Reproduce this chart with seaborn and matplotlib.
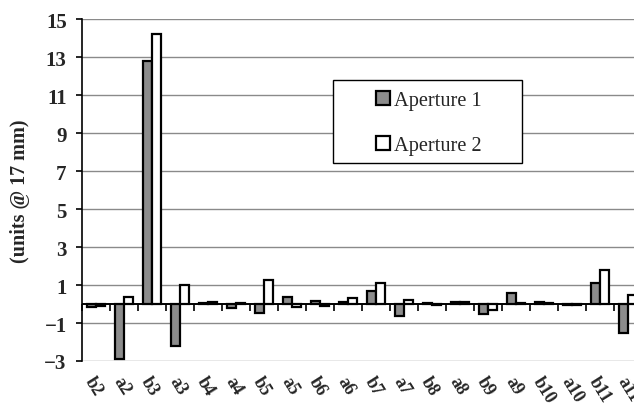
import matplotlib
matplotlib.use("Agg")
import matplotlib.pyplot as plt
from matplotlib.patches import Rectangle
import seaborn as sns
import pandas as pd
import numpy as np

categories = ["b2", "a2", "b3", "a3", "b4", "a4", "b5", "a5", "b6", "a6",
              "b7", "a7", "b8", "a8", "b9", "a9", "b10", "a10", "b11", "a11"]
aperture1 = [-0.15, -2.9, 12.8, -2.2, 0.05, -0.2, -0.45, 0.35, 0.15, 0.1,
             0.7, -0.65, 0.05, 0.08, -0.5, 0.6, 0.08, -0.05, 1.1, -1.5]
aperture2 = [-0.1, 0.38, 14.2, 1.0, 0.1, 0.05, 1.25, -0.15, -0.1, 0.3,
             1.08, 0.2, -0.05, 0.1, -0.3, 0.05, 0.05, -0.05, 1.8, 0.5]
series_names = ["Aperture 1", "Aperture 2"]
yticks = [-3, -1, 1, 3, 5, 7, 9, 11, 13, 15]

df = pd.DataFrame({
    "cat": categories * 2,
    "val": aperture1 + aperture2,
    "series": [series_names[0]] * len(categories) + [series_names[1]] * len(categories),
})

sns.set_style("white")
plt.rcParams["font.family"] = ["Liberation Serif", "DejaVu Serif"]

W, H = 634, 410
fig = plt.figure(figsize=(W / 100, H / 100), dpi=100)
left, right, top, bottom = 82, 642, 20, 362
ax = fig.add_axes([left / W, (H - bottom) / H, (right - left) / W, (bottom - top) / H])

sns.barplot(data=df, x="cat", y="val", hue="series", order=categories,
            hue_order=series_names, palette=["#8c8c8c", "white"],
            width=0.64, gap=0, edgecolor="black", linewidth=1.6,
            saturation=1, ax=ax, legend=True, zorder=3)

ax.set_xlim(-0.5, len(categories) - 0.5)
ax.set_ylim(-3, 15)
ax.set_yticks(yticks)
for y in yticks:
    ax.axhline(y, color="#8a8a8a", lw=1.0, zorder=1)
ax.axhline(0, color="black", lw=1.4, zorder=4)

for s in ["top", "right", "bottom"]:
    ax.spines[s].set_visible(False)
ax.spines["left"].set_color("black")
ax.spines["left"].set_linewidth(1.2)

ax.spines["bottom"].set_position(("data", 0))
ax.set_xticks(range(len(categories)))
ax.set_xticks(np.arange(-0.5, len(categories), 1.0), minor=True)
ax.tick_params(axis="x", which="major", length=0, pad=50)
ax.tick_params(axis="x", which="minor", length=5, width=1.2, color="black", direction="out", bottom=True)
ax.set_xticklabels(categories, rotation=-58, ha="left", va="top",
                   rotation_mode="anchor", fontsize=13, fontweight="bold")

ax.tick_params(axis="y", length=4, width=1.2, color="black", pad=7, left=True,
               labelsize=15)
for t in ax.get_yticklabels():
    t.set_fontweight("bold")

ax.set_xlabel("")
ax.set_ylabel("(units @ 17 mm)", fontsize=14.5, fontweight="bold")
ax.yaxis.set_label_coords(-0.092, 0.5)

handles, labels = ax.get_legend_handles_labels()
ax.get_legend().remove()

box = Rectangle((333 / W, 1 - 164 / H), 189 / W, 83 / H, transform=fig.transFigure,
                facecolor="white", edgecolor="black", lw=1.0, zorder=5)
fig.add_artist(box)
leg = fig.legend(handles, labels, loc="center", bbox_to_anchor=(429 / W, 1 - 124 / H),
                 bbox_transform=fig.transFigure, fontsize=14.7, frameon=False,
                 labelspacing=1.25, handlelength=0.7, handleheight=0.7,
                 handletextpad=0.2, borderpad=0, borderaxespad=0)
leg.set_zorder(6)

fig.savefig("out.png", dpi=100)
